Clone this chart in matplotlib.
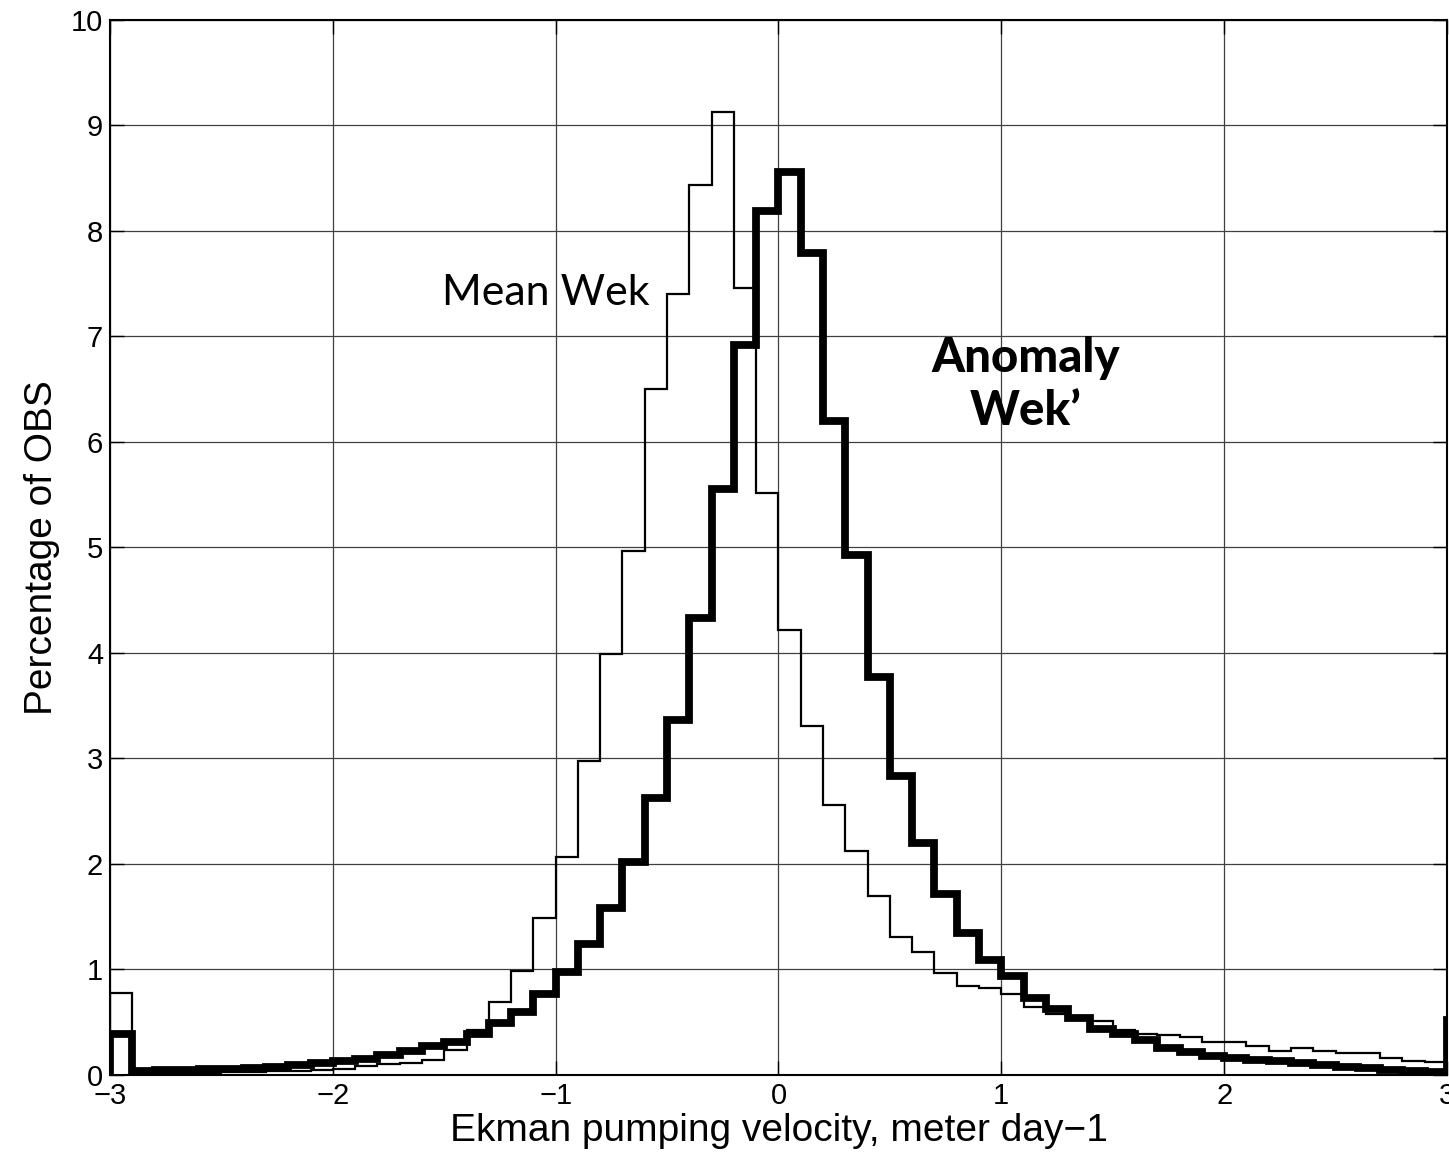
import matplotlib.pyplot as plt
import numpy as np

# histogram bins of width 0.1, left edges -3.0 ... 3.0 (last bin runs past the axis)
bin_left = np.round(np.arange(-3.0, 3.05, 0.1), 1)

mean_wek = [0.78, 0.01, 0.015, 0.02, 0.02, 0.025, 0.03, 0.035, 0.04, 0.05,
            0.06, 0.085, 0.10, 0.11, 0.14, 0.24, 0.43, 0.69, 0.99, 1.49,
            2.07, 2.98, 3.99, 4.97, 6.50, 7.40, 8.44, 9.13, 7.46, 5.52,
            4.22, 3.31, 2.56, 2.12, 1.70, 1.31, 1.17, 0.97, 0.84, 0.82,
            0.77, 0.64, 0.58, 0.55, 0.51, 0.43, 0.39, 0.38, 0.36, 0.31,
            0.31, 0.27, 0.23, 0.26, 0.23, 0.21, 0.21, 0.16, 0.13, 0.12,
            0.45]

anom_wek = [0.39, 0.04, 0.045, 0.05, 0.055, 0.06, 0.07, 0.08, 0.09, 0.11,
            0.13, 0.15, 0.19, 0.23, 0.27, 0.31, 0.39, 0.49, 0.60, 0.77,
            0.98, 1.24, 1.58, 2.02, 2.63, 3.36, 4.33, 5.55, 6.92, 8.19,
            8.56, 7.79, 6.20, 4.93, 3.77, 2.83, 2.20, 1.72, 1.35, 1.09,
            0.94, 0.73, 0.63, 0.54, 0.44, 0.39, 0.33, 0.26, 0.22, 0.18,
            0.16, 0.14, 0.13, 0.11, 0.095, 0.08, 0.065, 0.05, 0.04, 0.03,
            0.52]

edges = np.append(bin_left, bin_left[-1] + 0.1)

fig = plt.figure(figsize=(14.49, 11.6), dpi=100)
ax = fig.add_axes([0.0759, 0.0733, 0.9227, 0.9095])

ax.grid(True, color='0.25', linewidth=0.9)
ax.set_axisbelow(True)

ax.stairs(mean_wek, edges, baseline=0, color='black', linewidth=1.6)
ax.stairs(anom_wek, edges, baseline=0, color='black', linewidth=5.6)

ax.set_xlim(-3, 3)
ax.set_ylim(0, 10)
ax.set_xticks(np.arange(-3, 4, 1))
ax.set_yticks(np.arange(0, 11, 1))
ax.set_xticklabels(['\u22123', '\u22122', '\u22121', '0', '1', '2', '3'])
ax.tick_params(direction='in', length=10, width=1.0, labelsize=21,
               top=True, right=True, pad=5)
for lab in ax.get_xticklabels() + ax.get_yticklabels():
    lab.set_family('Liberation Sans')
for s in ax.spines.values():
    s.set_linewidth(1.5)

ax.set_xlabel('Ekman pumping velocity, meter day\u22121', fontsize=28,
              family='Liberation Sans', labelpad=2)
ax.set_ylabel('Percentage of OBS', fontsize=28, family='Liberation Sans',
              labelpad=8)

ax.text(-1.51, 7.3, 'Mean Wek', fontsize=31, family='Lato', ha='left',
        va='baseline')
ax.text(1.11, 6.66, 'Anomaly', fontsize=34, family='Lato', weight='black',
        ha='center', va='baseline')
ax.text(1.11, 6.16, 'Wek\u2019', fontsize=34, family='Lato', weight='black',
        ha='center', va='baseline')

fig.savefig('out.png', dpi=100)
